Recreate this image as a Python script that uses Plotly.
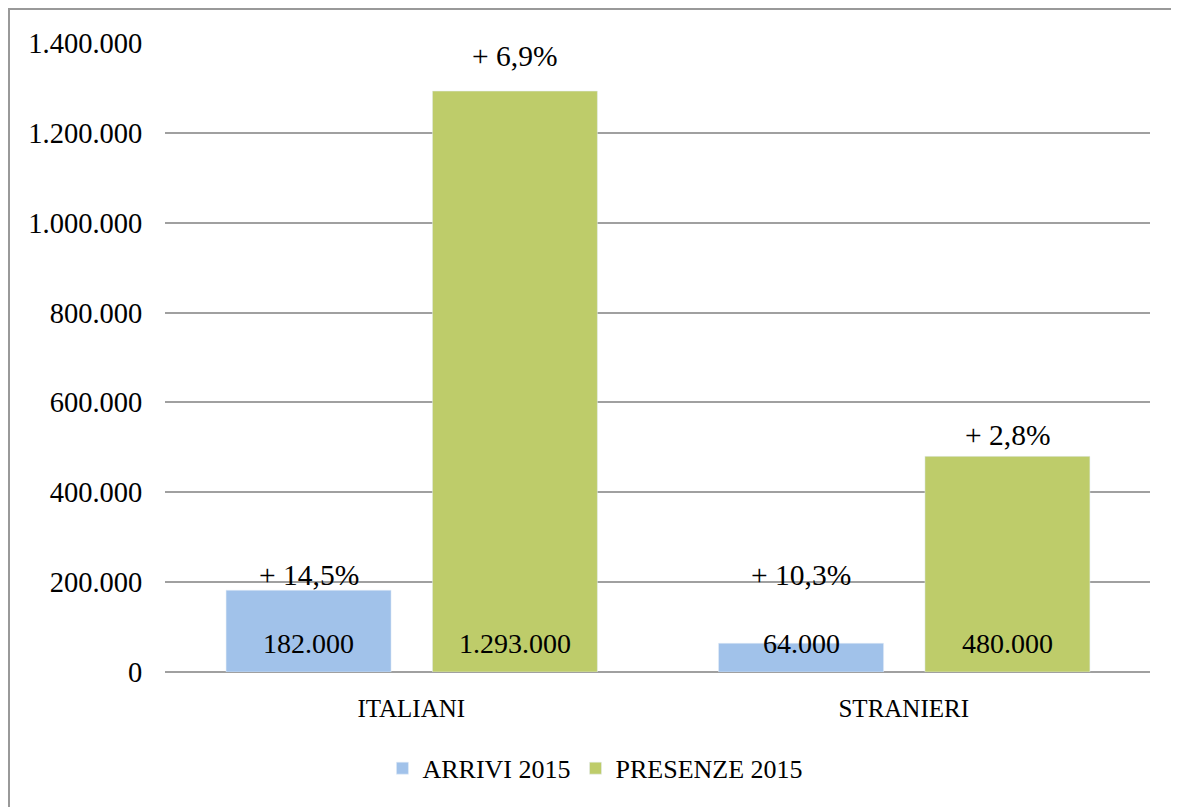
import plotly.graph_objects as go

categories = ["ITALIANI", "STRANIERI"]
arrivi = [182000, 64000]
presenze = [1293000, 480000]
arrivi_labels = ["182.000", "64.000"]
presenze_labels = ["1.293.000", "480.000"]
arrivi_pct = ["+ 14,5%", "+ 10,3%"]
presenze_pct = ["+ 6,9%", "+ 2,8%"]
tick_vals = [0, 200000, 400000, 600000, 800000, 1000000, 1200000, 1400000]
tick_text = ["0", "200.000", "400.000", "600.000", "800.000", "1.000.000", "1.200.000", "1.400.000"]

FONT = "Liberation Serif"
BLUE = "#A1C2EA"
GREEN = "#BECC6A"

# figure size (page adds an 8px body margin) and plot area in figure pixels
W, H = 1171, 799
L, R, T, B = 157, 29, 35, 135
PW = W - L - R
PH = H - T - B

fig = go.Figure()
fig.add_trace(go.Bar(x=categories, y=arrivi, name="ARRIVI 2015", marker_color=BLUE,
                     width=0.335, offset=-0.376))
fig.add_trace(go.Bar(x=categories, y=presenze, name="PRESENZE 2015", marker_color=GREEN,
                     width=0.335, offset=0.043))

ann = []
for i, c in enumerate(categories):
    ann.append(dict(x=i - 0.2085, y=64000, text=arrivi_labels[i], showarrow=False,
                    xref="x", yref="y", font=dict(size=28, color="black", family=FONT)))
    ann.append(dict(x=i + 0.2105, y=64000, text=presenze_labels[i], showarrow=False,
                    xref="x", yref="y", font=dict(size=28, color="black", family=FONT)))
pct_y_arr = [216000, 216000]
pct_y_pre = [1372000, 528000]
for i, c in enumerate(categories):
    ann.append(dict(x=i - 0.2085, y=pct_y_arr[i], text=arrivi_pct[i], showarrow=False,
                    xref="x", yref="y", font=dict(size=29.5, color="black", family=FONT)))
    ann.append(dict(x=i + 0.2105, y=pct_y_pre[i], text=presenze_pct[i], showarrow=False,
                    xref="x", yref="y", font=dict(size=29.5, color="black", family=FONT)))

fig.update_layout(
    barmode="overlay",
    width=W, height=H,
    margin=dict(l=L, r=R, t=T, b=B),
    plot_bgcolor="white", paper_bgcolor="white",
    font=dict(family=FONT, size=25, color="black"),
    annotations=ann,
    showlegend=True,
    legend=dict(orientation="h", x=0.437, xanchor="center", y=-0.153, yanchor="middle",
                font=dict(size=26, family=FONT), itemwidth=30, traceorder="normal"),
    xaxis=dict(showgrid=False, showline=False, ticks="outside", ticklen=14,
               tickcolor="rgba(0,0,0,0)", tickfont=dict(size=25),
               range=[-0.5, 1.5]),
    yaxis=dict(range=[0, 1400000], tickvals=tick_vals, ticktext=tick_text,
               showgrid=True, gridcolor="#A0A0A0", gridwidth=2,
               zeroline=True, zerolinecolor="#A0A0A0", zerolinewidth=2,
               ticks="outside", ticklen=16, tickcolor="rgba(0,0,0,0)",
               tickfont=dict(size=28.5)),
    shapes=[
        dict(type="line", xref="paper", yref="paper", x0=-L / PW, x1=1 + R / PW,
             y0=1 + (T - 1) / PH, y1=1 + (T - 1) / PH,
             line=dict(color="#999999", width=2)),
        dict(type="line", xref="paper", yref="paper", x0=-(L - 1) / PW, x1=-(L - 1) / PW,
             y0=1 + (T - 1) / PH, y1=-B / PH,
             line=dict(color="#999999", width=2)),
    ],
)

fig.write_html("out.html")
